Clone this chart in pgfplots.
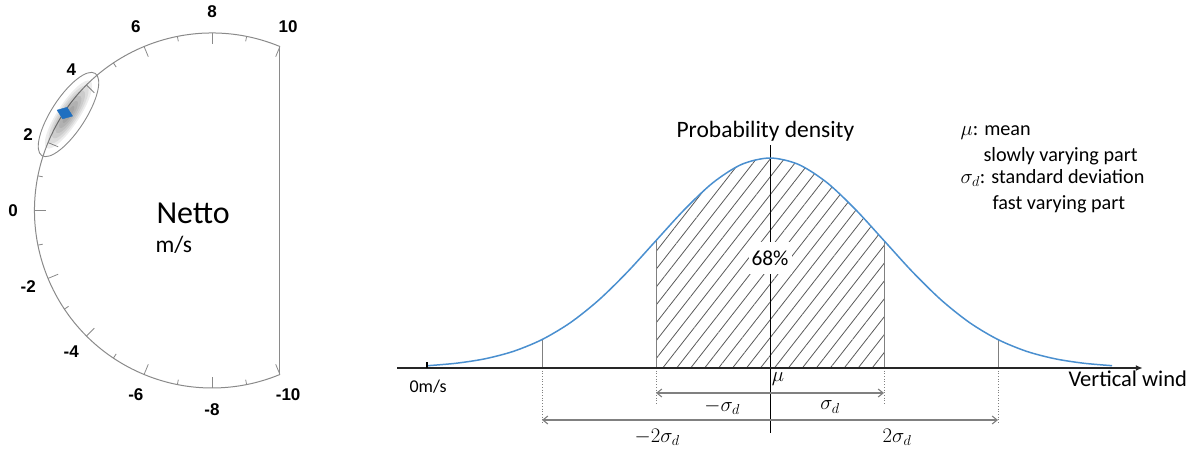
\documentclass[border=0pt]{standalone}
\usepackage{fontspec}
\setmainfont{Carlito}
\newfontfamily\helv{Liberation Sans}
\usepackage{pgfplots}
\pgfplotsset{compat=1.18}
\usepackage{pgfplotstable}
\usetikzlibrary{arrows.meta,patterns.meta}

\definecolor{curveblue}{HTML}{4A8FCF}
\definecolor{matblue}{HTML}{1F6FC0}
\definecolor{gaugegray}{HTML}{8A8A8A}
\definecolor{linegray}{HTML}{808080}

\pgfplotstableread{
z phi
-3.00 0.0044
-2.75 0.0091
-2.50 0.0175
-2.25 0.0317
-2.00 0.0540
-1.75 0.0863
-1.50 0.1295
-1.25 0.1826
-1.00 0.2420
-0.75 0.3011
-0.50 0.3521
-0.25 0.3867
0.00 0.3989
0.25 0.3867
0.50 0.3521
0.75 0.3011
1.00 0.2420
1.25 0.1826
1.50 0.1295
1.75 0.0863
2.00 0.0540
2.25 0.0317
2.50 0.0175
2.75 0.0091
3.00 0.0044
}\density

\begin{document}
\begin{tikzpicture}
\useasboundingbox (0,0) rectangle (1192pt,448pt);

% ---------- gauge ----------
\begin{scope}[shift={(212pt,237.5pt)}]
  \draw[gaugegray, line width=1pt] (67.5:177.5pt) arc[start angle=67.5, end angle=292.5, radius=177.5pt];
  \draw[gaugegray, line width=1pt] (67.5:177.5pt) -- (292.5:177.5pt);
  \foreach \v in {-10,...,10}{
    \pgfmathsetmacro\ang{180-11.25*\v}
    \ifodd\v \def\rin{172.5}\else\def\rin{166.5}\fi
    \draw[gaugegray, line width=0.8pt] (\ang:177.5pt) -- (\ang:\rin pt);
  }
  \foreach \v in {-10,-8,...,10}{
    \pgfmathsetmacro\ang{180-11.25*\v}
    \node[font=\helv\bfseries\fontsize{17}{20}\selectfont] at (\ang:199pt) {\v};
  }
\end{scope}

\begin{scope}[shift={(68.5pt,333.5pt)}, rotate=57]
  \foreach \s in {1.0,0.85,0.7,0.55,0.4,0.25}{
    \fill[black, opacity=0.07] (0,0) ellipse[x radius=\s*40pt, y radius=\s*11pt];
  }
  \draw[gaugegray, line width=0.9pt] (0,0) ellipse[x radius=49pt, y radius=17pt];
\end{scope}

\node[anchor=base west, font=\fontsize{32}{36}\selectfont] at (153pt,225pt) {Netto};
\node[anchor=base west, font=\fontsize{23.5}{28}\selectfont] at (152pt,196pt) {m/s};

\begin{axis}[at={(0pt,0pt)}, anchor=south west, scale only axis,
  width=340pt, height=448pt, xmin=-212, xmax=128, ymin=-237.5, ymax=210.5,
  hide axis, clip=false]
  \addplot[only marks, mark=diamond*, mark size=8.25pt, color=matblue,
    mark options={rotate=-111}, data cs=polar] coordinates {(146.5,176.5)};
\end{axis}

% ---------- distribution ----------
\begin{axis}[at={(371pt,0pt)}, anchor=south west, scale only axis,
  width=798pt, height=448pt, xmin=-3.5, xmax=3.5, ymin=-0.15198, ymax=0.69909,
  hide axis, clip=false]
  \addplot[draw=none, pattern={Lines[angle=52,distance=11pt,line width=0.8pt]},
    pattern color=black!65, restrict x to domain=-1:1, smooth]
    table[x=z,y=phi]{\density} \closedcycle;
  % vertical lines
  \draw[linegray, line width=0.8pt] (axis cs:-1,0) -- (axis cs:-1,0.2420);
  \draw[linegray, line width=0.8pt] (axis cs:1,0) -- (axis cs:1,0.2420);
  \draw[linegray, line width=0.8pt] (axis cs:-2,0) -- (axis cs:-2,0.0540);
  \draw[linegray, line width=0.8pt] (axis cs:2,0) -- (axis cs:2,0.0540);
  \draw[linegray, line width=0.7pt, dotted] (axis cs:-1,0) -- (axis cs:-1,-0.0703);
  \draw[linegray, line width=0.7pt, dotted] (axis cs:1,0) -- (axis cs:1,-0.0703);
  \draw[linegray, line width=0.7pt, dotted] (axis cs:-2,0) -- (axis cs:-2,-0.1045);
  \draw[linegray, line width=0.7pt, dotted] (axis cs:2,0) -- (axis cs:2,-0.1045);
  \draw[black, line width=0.9pt] (axis cs:0,0.4236) -- (axis cs:0,-0.1235);
  % arrows
  \draw[linegray, line width=1.1pt, {Straight Barb[length=5pt,width=8pt]}-{Straight Barb[length=5pt,width=8pt]}]
    (axis cs:-1,-0.0475) -- (axis cs:1,-0.0475);
  \draw[linegray, line width=1.1pt, {Straight Barb[length=5pt,width=8pt]}-{Straight Barb[length=5pt,width=8pt]}]
    (axis cs:-2,-0.0988) -- (axis cs:2,-0.0988);
  % curve
  \addplot[curveblue, line width=1.5pt, smooth] table[x=z,y=phi]{\density};
  % baseline
  \draw[line width=2.4pt, black!85, -{Latex[length=7pt,width=6pt]}] (axis cs:-3.27,0) -- (axis cs:3.27,0);
  \draw[line width=1.8pt, black] (axis cs:-3.01,0) -- (axis cs:-3.01,0.012);
  % labels
  \node[fill=white, inner xsep=3pt, inner ysep=9pt, font=\fontsize{21.4}{25}\selectfont] at (axis cs:0,0.209) {68\%};
  \node[anchor=base, font=\fontsize{23.5}{28}\selectfont] at (axis cs:-0.04,0.4388) {Probability density};
  \node[font=\fontsize{20}{24}\selectfont] at (axis cs:0.07,-0.021) {$\mu$};
  \node[font=\fontsize{20}{24}\selectfont] at (axis cs:-0.42,-0.0741) {$-\sigma_d$};
  \node[font=\fontsize{20}{24}\selectfont] at (axis cs:0.526,-0.0741) {$\sigma_d$};
  \node[font=\fontsize{20}{24}\selectfont] at (axis cs:-0.99,-0.131) {$-2\sigma_d$};
  \node[font=\fontsize{20}{24}\selectfont] at (axis cs:1.114,-0.131) {$2\sigma_d$};
  \node[anchor=base west, font=\fontsize{18}{22}\selectfont] at (axis cs:-3.193,-0.0456) {0m/s};
  \node[anchor=base west, font=\fontsize{22.5}{27}\selectfont] at (axis cs:2.588,-0.035) {Vertical wind};
\end{axis}

% ---------- explanation ----------
\node[anchor=base west, font=\fontsize{20.2}{24}\selectfont] at (957pt,312pt) {$\mu$: mean};
\node[anchor=base west, font=\fontsize{20.2}{24}\selectfont] at (980pt,287pt) {slowly varying part};
\node[anchor=base west, font=\fontsize{20.2}{24}\selectfont] at (957pt,264.7pt) {$\sigma_d$: standard deviation};
\node[anchor=base west, font=\fontsize{20.2}{24}\selectfont] at (989pt,239pt) {fast varying part};
\end{tikzpicture}
\end{document}
